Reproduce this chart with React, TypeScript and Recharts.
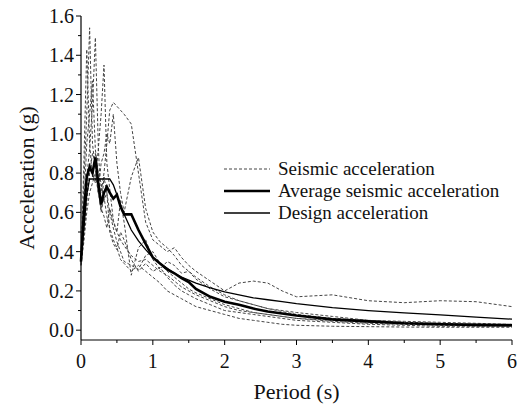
import { LineChart, Line, XAxis, YAxis, Legend, Label } from "recharts";

// period grid (s)
const periods = [0, 0.04, 0.08, 0.12, 0.16, 0.2, 0.24, 0.28, 0.32, 0.36, 0.4, 0.45, 0.5, 0.55, 0.6, 0.7, 0.8, 0.9, 1.0, 1.1, 1.2, 1.3, 1.4, 1.5, 1.6, 1.8, 2.0, 2.2, 2.4, 2.6, 2.8, 3.0, 3.5, 4.0, 4.5, 5.0, 5.5, 6.0];

const averageAcc = [0.35, 0.6, 0.78, 0.83, 0.8, 0.88, 0.75, 0.64, 0.7, 0.73, 0.7, 0.67, 0.69, 0.63, 0.59, 0.59, 0.51, 0.44, 0.37, 0.34, 0.31, 0.29, 0.265, 0.245, 0.21, 0.17, 0.145, 0.13, 0.11, 0.095, 0.085, 0.075, 0.055, 0.045, 0.035, 0.03, 0.027, 0.025];
const designAcc = [0.35, 0.52, 0.69, 0.77, 0.77, 0.77, 0.77, 0.77, 0.77, 0.77, 0.77, 0.74, 0.69, 0.63, 0.59, 0.51, 0.455, 0.41, 0.37, 0.34, 0.315, 0.29, 0.27, 0.255, 0.24, 0.215, 0.195, 0.18, 0.165, 0.155, 0.145, 0.135, 0.115, 0.1, 0.088, 0.078, 0.067, 0.056];

// individual records
const rec1 = [0.36, 0.75, 1.1, 1.54, 0.95, 0.82, 0.7, 0.62, 0.58, 0.52, 0.62, 0.55, 0.5, 0.46, 0.43, 0.38, 0.35, 0.36, 0.33, 0.3, 0.28, 0.25, 0.22, 0.2, 0.18, 0.15, 0.12, 0.1, 0.09, 0.08, 0.07, 0.06, 0.05, 0.04, 0.035, 0.03, 0.028, 0.025];
const rec2 = [0.34, 0.85, 1.43, 0.95, 0.78, 0.9, 0.72, 0.6, 0.68, 0.58, 0.52, 0.46, 0.42, 0.36, 0.34, 0.3, 0.33, 0.3, 0.27, 0.24, 0.2, 0.18, 0.16, 0.14, 0.12, 0.1, 0.08, 0.06, 0.05, 0.04, 0.03, 0.025, 0.02, 0.018, 0.016, 0.015, 0.015, 0.015];
const rec3 = [0.35, 0.55, 0.78, 0.92, 1.15, 1.49, 0.95, 0.62, 0.78, 0.7, 0.5, 0.44, 0.41, 0.5, 0.46, 0.36, 0.3, 0.34, 0.3, 0.32, 0.27, 0.23, 0.2, 0.18, 0.16, 0.13, 0.1, 0.09, 0.08, 0.07, 0.06, 0.05, 0.04, 0.03, 0.025, 0.02, 0.02, 0.02];
const rec4 = [0.33, 0.5, 0.7, 0.85, 0.8, 0.75, 0.92, 1.1, 1.35, 0.85, 0.72, 0.56, 0.5, 0.66, 0.55, 0.28, 0.42, 0.46, 0.36, 0.31, 0.35, 0.33, 0.29, 0.3, 0.26, 0.21, 0.17, 0.15, 0.13, 0.11, 0.095, 0.08, 0.06, 0.05, 0.045, 0.04, 0.035, 0.03];
const rec5 = [0.38, 0.5, 0.65, 0.8, 0.9, 0.85, 0.75, 0.7, 0.8, 0.95, 1.12, 1.16, 1.14, 1.12, 1.1, 1.05, 0.8, 0.55, 0.46, 0.43, 0.4, 0.42, 0.37, 0.33, 0.3, 0.25, 0.2, 0.24, 0.25, 0.24, 0.2, 0.17, 0.18, 0.15, 0.14, 0.15, 0.145, 0.12];
const rec6 = [0.35, 0.62, 0.95, 1.1, 1.27, 0.92, 0.8, 0.75, 0.66, 0.7, 0.6, 0.52, 0.45, 0.4, 0.35, 0.33, 0.31, 0.38, 0.4, 0.34, 0.3, 0.27, 0.24, 0.21, 0.19, 0.16, 0.13, 0.11, 0.09, 0.08, 0.07, 0.06, 0.045, 0.035, 0.03, 0.025, 0.022, 0.02];
const rec7 = [0.33, 0.45, 0.6, 0.7, 0.75, 0.8, 0.7, 0.85, 0.9, 1.0, 0.95, 1.1, 0.85, 0.7, 0.6, 0.78, 0.88, 0.62, 0.5, 0.45, 0.42, 0.38, 0.33, 0.3, 0.27, 0.22, 0.18, 0.15, 0.13, 0.11, 0.1, 0.09, 0.07, 0.05, 0.04, 0.035, 0.03, 0.03];
const records = [rec1, rec2, rec3, rec4, rec5, rec6, rec7];

const xTicks = [0, 0.5, 1, 1.5, 2, 2.5, 3, 3.5, 4, 4.5, 5, 5.5, 6];
const yTicks = [0, 0.1, 0.2, 0.3, 0.4, 0.5, 0.6, 0.7, 0.8, 0.9, 1.0, 1.1, 1.2, 1.3, 1.4, 1.5, 1.6];

const data = periods.map((t, i) => {
  const row: any = { period: t, average: averageAcc[i], design: designAcc[i] };
  records.forEach((r, k) => (row[`rec${k}`] = r[i]));
  return row;
});

const FONT = "Liberation Serif, DejaVu Serif, Times, serif";

function XTick(props: any) {
  const { x, y, payload } = props;
  const v = payload.value;
  const major = Math.abs(v - Math.round(v)) < 1e-6;
  return (
    <g>
      <line x1={x} x2={x} y1={y} y2={y + (major ? 5 : 3)} stroke="#000" strokeWidth={1} />
      {major && (
        <text x={x} y={y + 28} textAnchor="middle" style={{ fontFamily: FONT }} fontSize={20} fill="#111">
          {v}
        </text>
      )}
    </g>
  );
}

function YTick(props: any) {
  const { x, y, payload } = props;
  const v = payload.value;
  const major = Math.round(v * 10) % 2 === 0;
  return (
    <g>
      <line x1={x} x2={x - (major ? 5 : 3)} y1={y} y2={y} stroke="#000" strokeWidth={1} />
      {major && (
        <text x={x - 7} y={y + 7} textAnchor="end" style={{ fontFamily: FONT }} fontSize={20} fill="#111">
          {v.toFixed(1)}
        </text>
      )}
    </g>
  );
}

const XTitle = (props: any) => {
  const vb = props.viewBox || { x: 81, y: 340, width: 431, height: 66 };
  return (
    <text x={vb.x + vb.width / 2} y={vb.y + 59} textAnchor="middle" style={{ fontFamily: FONT }} fontSize={22} fill="#111">
      Period (s)
    </text>
  );
};

const YTitle = (props: any) => {
  const vb = props.viewBox || { x: 0, y: 16, width: 81, height: 324 };
  const cx = vb.x + 26;
  const cy = vb.y + vb.height / 2;
  return (
    <text
      x={cx}
      y={cy}
      dy="0.35em"
      transform={`rotate(-90 ${cx} ${cy})`}
      textAnchor="middle"
      style={{ fontFamily: FONT }}
      fontSize={22}
      fill="#111"
    >
      Acceleration (g)
    </text>
  );
};

const legendItems = [
  { label: "Seismic acceleration", stroke: "#444", width: 1, dash: "3 2" },
  { label: "Average seismic acceleration", stroke: "#000", width: 2.6, dash: undefined },
  { label: "Design acceleration", stroke: "#000", width: 1.3, dash: undefined },
];

function LegendBox() {
  return (
    <div style={{ fontFamily: FONT, fontSize: 19, color: "#111" }}>
      {legendItems.map((it) => (
        <div key={it.label} style={{ display: "flex", alignItems: "center", height: 22 }}>
          <svg width={46} height={10} style={{ marginRight: 8 }}>
            <line x1={0} x2={46} y1={5} y2={5} stroke={it.stroke} strokeWidth={it.width} strokeDasharray={it.dash} />
          </svg>
          <span style={{ whiteSpace: "nowrap" }}>{it.label}</span>
        </div>
      ))}
    </div>
  );
}

export default function App() {
  return (
    <div style={{ position: "absolute", left: 0, top: 0, background: "#fff", fontFamily: FONT }}>
      <LineChart width={518} height={406} data={data} margin={{ top: 16, right: 6, bottom: 0, left: 0 }}>
        <XAxis
          type="number"
          dataKey="period"
          domain={[0, 6]}
          ticks={xTicks}
          interval={0}
          height={66}
          tickSize={0}
          tickMargin={0}
          tickLine={false}
          tick={<XTick />}
          axisLine={{ stroke: "#000", strokeWidth: 1.2 }}
        >
          <Label content={XTitle} />
        </XAxis>
        <YAxis
          type="number"
          domain={[-0.05, 1.6]}
          ticks={yTicks}
          interval={0}
          width={81}
          tickSize={0}
          tickMargin={0}
          tickLine={false}
          tick={<YTick />}
          axisLine={{ stroke: "#000", strokeWidth: 1.2 }}
        >
          <Label content={YTitle} />
        </YAxis>
        <Legend
          layout="vertical"
          align="center"
          verticalAlign="middle"
          content={<LegendBox />}
          wrapperStyle={{ left: 224, top: 158, width: 290 }}
        />
        {records.map((_, k) => (
          <Line
            key={k}
            dataKey={`rec${k}`}
            type="linear"
            stroke="#444"
            strokeWidth={1}
            strokeDasharray="3 2"
            dot={false}
            isAnimationActive={false}
          />
        ))}
        <Line dataKey="design" type="linear" stroke="#000" strokeWidth={1.3} dot={false} isAnimationActive={false} />
        <Line dataKey="average" type="linear" stroke="#000" strokeWidth={2.6} dot={false} isAnimationActive={false} />
      </LineChart>
    </div>
  );
}
